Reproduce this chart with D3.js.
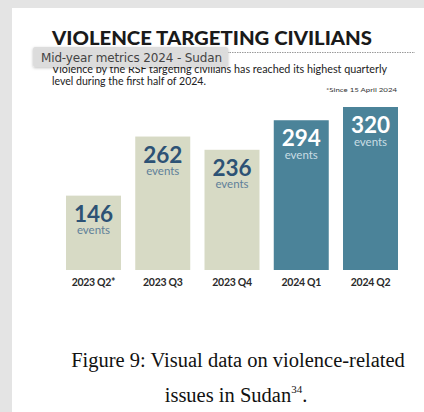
<!DOCTYPE html>
<html>
<head>
<meta charset="utf-8">
<script src="https://cdn.jsdelivr.net/npm/d3@7"></script>
<style>
  html, body { margin: 0; padding: 0; background: #e4e4e4; }
  svg { display: block; }
</style>
</head>
<body>
<svg id="chart"></svg>
<script>
// data
const quarters = ["2023 Q2*", "2023 Q3", "2023 Q4", "2024 Q1", "2024 Q2"];
const eventCounts = [146, 262, 236, 294, 320];
const highlighted = [false, false, false, true, true];

const titleText = "VIOLENCE TARGETING CIVILIANS";
const tooltipText = "Mid-year metrics 2024 - Sudan";
const subLines = [
  "Violence by the RSF targeting civilians has reached its highest quarterly",
  "level during the first half of 2024."
];
const noteText = "*Since 15 April 2024";
const captionLines = ["Figure 9: Visual data on violence-related", "issues in Sudan"];

const w = 424;
const h = 412;

const svg = d3.select("#chart")
  .attr("width", w)
  .attr("height", h);

// shadow for the hover box
const defs = svg.append("defs");
const f = defs.append("filter").attr("id", "shadow")
  .attr("x", "-10%").attr("y", "-30%").attr("width", "120%").attr("height", "180%");
f.append("feDropShadow").attr("dx", 0).attr("dy", 1).attr("stdDeviation", 1.5)
  .attr("flood-color", "#000").attr("flood-opacity", 0.25);

// white page
svg.append("rect")
  .attr("x", 12).attr("y", 8)
  .attr("width", w - 12).attr("height", h - 8)
  .attr("fill", "#ffffff");

// title
svg.append("text")
  .attr("x", 52).attr("y", 45)
  .attr("font-family", "Lato")
  .attr("font-weight", 900)
  .attr("font-size", 18.5)
  .attr("fill", "#1a1a1a")
  .attr("textLength", 320)
  .attr("lengthAdjust", "spacingAndGlyphs")
  .text(titleText);

// dotted rule under the title
svg.append("line")
  .attr("x1", 52).attr("x2", 415)
  .attr("y1", 52.5).attr("y2", 52.5)
  .attr("stroke", "#9a9a9a")
  .attr("stroke-width", 1)
  .attr("stroke-dasharray", "1.5,1");

// subtitle
svg.selectAll(".sub")
  .data(subLines)
  .enter()
  .append("text")
  .attr("class", "sub")
  .attr("x", 52)
  .attr("y", (d, i) => 73 + i * 11.5)
  .attr("font-family", "Lato")
  .attr("font-size", 10.5)
  .attr("fill", "#222")
  .attr("textLength", (d, i) => i === 0 ? 335 : 154)
  .attr("lengthAdjust", "spacingAndGlyphs")
  .text(d => d);

svg.append("text")
  .attr("x", 397).attr("y", 92)
  .attr("text-anchor", "end")
  .attr("font-family", "Lato")
  .attr("font-size", 6.5)
  .attr("fill", "#333")
  .attr("textLength", 71)
  .attr("lengthAdjust", "spacingAndGlyphs")
  .text(noteText);

// bars
const xScale = d3.scaleBand()
  .domain(quarters)
  .range([66, 398])
  .paddingInner(0.206)
  .paddingOuter(0);

const yScale = d3.scaleLinear()
  .domain([0, 320])
  .range([270, 107]);

const bars = svg.append("g");

bars.selectAll("rect")
  .data(quarters)
  .enter()
  .append("rect")
  .attr("x", d => xScale(d))
  .attr("y", (d, i) => yScale(eventCounts[i]))
  .attr("width", xScale.bandwidth())
  .attr("height", (d, i) => yScale(0) - yScale(eventCounts[i]))
  .attr("fill", (d, i) => highlighted[i] ? "#4b8399" : "#d7dac5");

bars.selectAll(".num")
  .data(quarters)
  .enter()
  .append("text")
  .attr("class", "num")
  .attr("x", d => xScale(d) + xScale.bandwidth() / 2)
  .attr("y", (d, i) => yScale(eventCounts[i]) + 26)
  .attr("text-anchor", "middle")
  .attr("font-family", "Lato")
  .attr("font-weight", 700)
  .attr("font-size", 22.5)
  .attr("fill", (d, i) => highlighted[i] ? "#ffffff" : "#2d5275")
  .text((d, i) => eventCounts[i]);

bars.selectAll(".ev")
  .data(quarters)
  .enter()
  .append("text")
  .attr("class", "ev")
  .attr("x", d => xScale(d) + xScale.bandwidth() / 2)
  .attr("y", (d, i) => yScale(eventCounts[i]) + 38.5)
  .attr("text-anchor", "middle")
  .attr("font-family", "Lato")
  .attr("font-size", 11.5)
  .attr("fill", (d, i) => highlighted[i] ? "#c9dde4" : "#5f7f99")
  .text("events");

// category axis
const xAxis = d3.axisBottom(xScale).tickSize(0).tickPadding(9);
const gx = svg.append("g")
  .attr("transform", "translate(0,270)")
  .call(xAxis);
gx.select(".domain").remove();
gx.selectAll("text")
  .attr("font-family", "Lato")
  .attr("font-weight", 700)
  .attr("font-size", 10.5)
  .attr("letter-spacing", -0.3)
  .attr("fill", "#2a2a2a");

// hover box on top of the subtitle
svg.append("rect")
  .attr("x", 33).attr("y", 47)
  .attr("width", 195).attr("height", 20)
  .attr("rx", 2)
  .attr("fill", "#dcdcdc")
  .attr("fill-opacity", 0.97)
  .attr("filter", "url(#shadow)");

svg.append("text")
  .attr("x", 41).attr("y", 61.5)
  .attr("font-family", "DejaVu Sans")
  .attr("font-size", 12)
  .attr("fill", "#444")
  .attr("textLength", 181)
  .text(tooltipText);

// caption below
const cap = svg.append("g")
  .attr("font-family", "Liberation Serif")
  .attr("font-size", 20.5)
  .attr("fill", "#111")
  .attr("text-anchor", "middle");

cap.append("text")
  .attr("x", 238).attr("y", 367)
  .text(captionLines[0]);

const cap2 = cap.append("text")
  .attr("x", 236).attr("y", 401.5);
cap2.append("tspan").text(captionLines[1]);
cap2.append("tspan").attr("font-size", 11).attr("dy", -9).text("34");
cap2.append("tspan").attr("dy", 9).text(".");
</script>
</body>
</html>
